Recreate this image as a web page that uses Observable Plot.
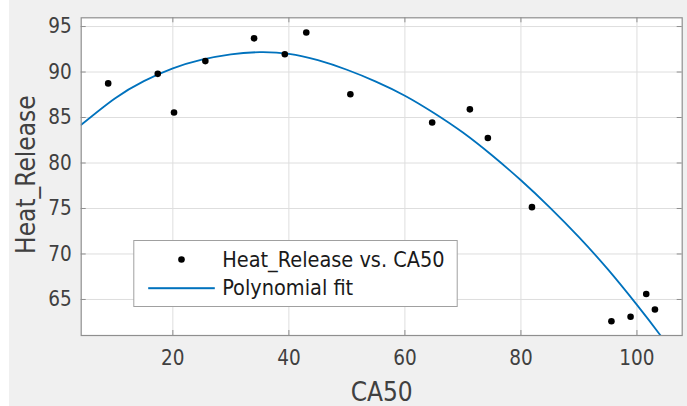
<!DOCTYPE html>
<html><head><meta charset="utf-8">
<script src="https://cdn.jsdelivr.net/npm/d3@7"></script>
<script src="https://cdn.jsdelivr.net/npm/@observablehq/plot@0.6"></script>
<style>
html,body{margin:0;padding:0;background:#fff;}
#chart{position:absolute;left:9px;top:0;width:678px;height:406px;background:#f0f0f0;}
#chart svg{display:block;}
</style></head><body><div id="chart"></div>
<script>
// Data
const ca50 = [8.85, 17.4, 20.2, 25.6, 34.0, 39.3, 43.0, 50.6, 64.7, 71.2, 74.3, 81.9, 95.6, 98.9, 101.6, 103.1];
const heatRelease = [88.75, 89.8, 85.55, 91.2, 93.7, 91.95, 94.35, 87.55, 84.45, 85.9, 82.75, 75.15, 62.6, 63.1, 65.6, 63.9];
const fitX = [4.2, 10, 15, 20, 25, 30, 35, 40, 45, 50, 55, 60, 65, 70, 75, 80, 85, 90, 95, 100, 104, 107.8];
const fitY = [84.2, 87.1, 89.0, 90.4, 91.35, 91.95, 92.18, 92.0, 91.3, 90.25, 88.95, 87.4, 85.5, 83.35, 80.85, 78.1, 75.1, 71.85, 68.3, 64.4, 61.1, 57.8];
const xTicks = [20, 40, 60, 80, 100];
const yTicks = [65, 70, 75, 80, 85, 90, 95];
const xDomain = [4.2, 107.8];
const yDomain = [61.04, 95.96];
const xLabel = "CA50";
const yLabel = "Heat_Release";
const legendLabels = ["Heat_Release vs. CA50", "Polynomial fit"];

const points = ca50.map((x, i) => ({x, y: heatRelease[i]}));
const fit = fitX.map((x, i) => ({x, y: fitY[i]}));

const W = 678, H = 406, mL = 71.7, mR = 5.3, mT = 17.3, mB = 71;
const fw = W - mL - mR, fh = H - mT - mB;
const font = "'DejaVu Sans Condensed', 'DejaVu Sans', sans-serif";
const axisGray = "#8f8f8f";
const textGray = "#404040";
const blue = "#0072bd";

const chart = Plot.plot({
  width: W, height: H,
  marginLeft: mL, marginRight: mR, marginTop: mT, marginBottom: mB,
  style: {background: "transparent", fontFamily: font, overflow: "visible"},
  x: {domain: xDomain},
  y: {domain: yDomain},
  marks: [
    Plot.frame({fill: "white"}),
    Plot.gridX(xTicks, {stroke: "#dedede", strokeOpacity: 1}),
    Plot.gridY(yTicks, {stroke: "#dedede", strokeOpacity: 1}),
    Plot.line(fit, {x: "x", y: "y", stroke: blue, strokeWidth: 1.8, curve: "natural", clip: true}),
    Plot.dot(points, {x: "x", y: "y", r: 3.3, fill: "black", stroke: "none"}),
    // inward ticks on all four sides
    Plot.tickX(xTicks, {x: d => d, stroke: axisGray, insetTop: fh - 5}),
    Plot.tickX(xTicks, {x: d => d, stroke: axisGray, insetBottom: fh - 5}),
    Plot.tickY(yTicks, {y: d => d, stroke: axisGray, insetRight: fw - 5}),
    Plot.tickY(yTicks, {y: d => d, stroke: axisGray, insetLeft: fw - 5}),
    Plot.frame({stroke: axisGray, strokeWidth: 1.2}),
    Plot.axisX(xTicks, {tickSize: 0, tickPadding: 15, fontSize: 20.5, fill: textGray, label: null}),
    Plot.axisY(yTicks, {tickSize: 0, tickPadding: 9.5, fontSize: 20.5, fill: textGray, label: null}),
    Plot.text([xLabel], {text: d => d, frameAnchor: "bottom", textAnchor: "middle", lineAnchor: "bottom", dy: 65, fontSize: 26, fill: textGray}),
    Plot.text([yLabel], {text: d => d, frameAnchor: "left", textAnchor: "middle", rotate: -90, lineAnchor: "bottom", dx: -45.7, dy: -2, fontSize: 26, fill: textGray}),
    // legend
    Plot.frame({fill: "white", stroke: "#a0a0a0", insetLeft: 52.6, insetRight: 225, insetTop: 222.7, insetBottom: 29}),
    Plot.dot([legendLabels[0]], {frameAnchor: "top-left", dx: 100.3, dy: 241.7, r: 3.3, fill: "black", stroke: "none"}),
    Plot.frame({fill: blue, stroke: "none", insetLeft: 67, insetRight: 467.4, insetTop: 269.4, insetBottom: 46.3}),
    Plot.text([legendLabels[0]], {text: d => d, frameAnchor: "top-left", textAnchor: "start", lineAnchor: "bottom", dx: 141, dy: 248.7, fontSize: 21.5, fill: "#1a1a1a"}),
    Plot.text([legendLabels[1]], {text: d => d, frameAnchor: "top-left", textAnchor: "start", lineAnchor: "bottom", dx: 141, dy: 276.7, fontSize: 21.5, fill: "#1a1a1a"})
  ]
});
document.getElementById("chart").appendChild(chart);
</script>
</body></html>
